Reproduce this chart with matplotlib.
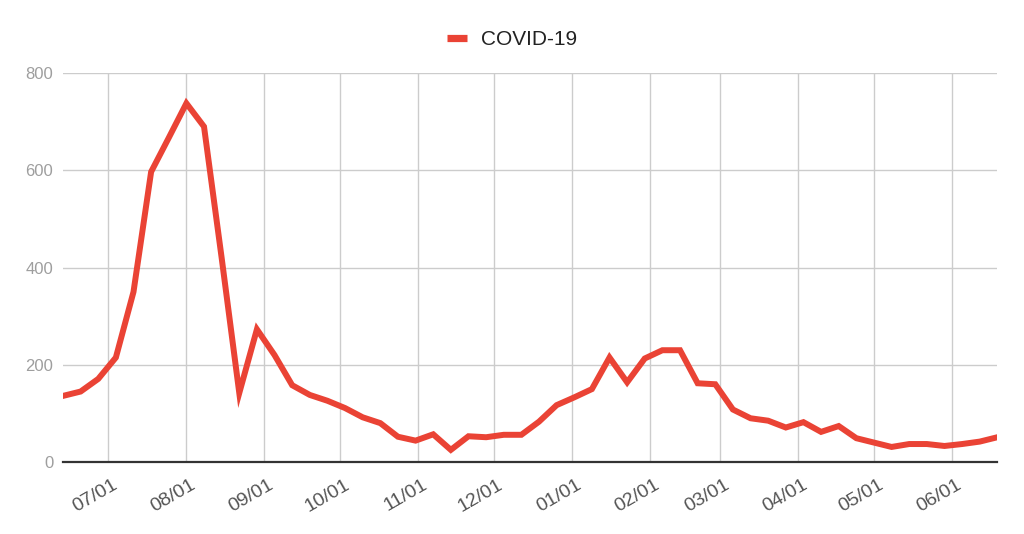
import numpy as np
import pandas as pd
import matplotlib
matplotlib.use("Agg")
import matplotlib.pyplot as plt
import matplotlib.dates as mdates
import matplotlib.transforms as mtransforms

plt.rcParams['font.family'] = ['Liberation Sans', 'DejaVu Sans']

# weekly series
start_date = "2022-06-13"
n_weeks = 54
covid = [136, 145, 171, 215, 350, 597, 667, 738, 690, 420,
         142, 273, 220, 158, 138, 126, 111, 92, 80, 52,
         44, 57, 25, 53, 51, 56, 56, 83, 117, 133,
         150, 215, 164, 213, 230, 230, 162, 160, 108, 90,
         85, 71, 82, 62, 74, 49, 40, 31, 37, 37,
         33, 37, 42, 51]
y_ticks = [0, 200, 400, 600, 800]

dates = pd.date_range(start_date, periods=n_weeks, freq="7D")

fig = plt.figure(figsize=(10.24, 5.34), dpi=100)
ax = fig.add_axes([0.0615, 0.1348, 0.9125, 0.7282])

ax.plot(dates, covid, color="#ea4335", linewidth=4.3, label="COVID-19",
        solid_joinstyle="miter", zorder=3)

ax.set_xlim(dates[0], dates[-1])
ax.set_ylim(0, 800)
ax.set_yticks(y_ticks)
ax.xaxis.set_major_locator(mdates.MonthLocator())
ax.xaxis.set_major_formatter(mdates.DateFormatter("%m/%d"))

ax.grid(True, color="#cccccc", linewidth=1.0, zorder=0)
for s in ["top", "right", "left"]:
    ax.spines[s].set_visible(False)
ax.spines["bottom"].set_color("#333333")
ax.spines["bottom"].set_linewidth(1.6)
ax.spines["bottom"].set_zorder(4)

ax.tick_params(axis="both", length=0)
ax.tick_params(axis="y", labelsize=12, labelcolor="#9e9e9e", pad=7)
ax.tick_params(axis="x", labelsize=14, labelcolor="#555555", pad=10)
shift = mtransforms.ScaledTranslation(4 / 100, 0, fig.dpi_scale_trans)
for lbl in ax.get_xticklabels():
    lbl.set_rotation(30)
    lbl.set_ha("right")
    lbl.set_rotation_mode("anchor")
    lbl.set_transform(lbl.get_transform() + shift)

leg = fig.legend(loc="upper center", bbox_to_anchor=(0.5, 0.978), frameon=False,
                 fontsize=15, handlelength=0.96, handletextpad=0.67)
for t in leg.get_texts():
    t.set_color("#222222")
for h in leg.get_lines():
    h.set_linewidth(5.2)
    h.set_solid_capstyle("butt")

fig.savefig("out.png", dpi=100)
